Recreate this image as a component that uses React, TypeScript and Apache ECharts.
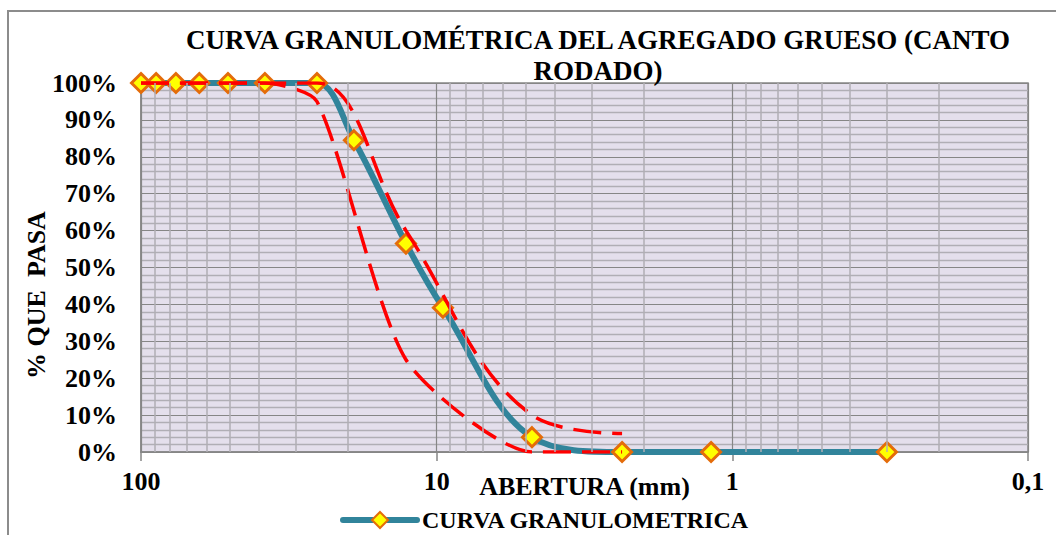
import React, { useEffect, useRef } from "react";
import * as echarts from "echarts";

// Sieve openings (mm) and % passing of the sample
const sieveOpenings = [100, 88.9, 76.2, 63.5, 50.8, 38.1, 25.4, 19.05, 12.7, 9.525, 4.76, 2.36, 1.18, 0.3];
const percentPassing = [100, 100, 100, 100, 100, 100, 100, 84.5, 56.5, 39.1, 4, 0, 0, 0];

// Gradation band limits
const upperOpenings = [100, 88.9, 76.2, 63.5, 50.8, 38.1, 25.4, 12.7, 4.76, 2.36];
const upperLimit = [100, 100, 100, 100, 100, 100, 100, 60, 10, 5];
const lowerOpenings = [100, 88.9, 76.2, 63.5, 50.8, 38.1, 25.4, 12.7, 4.76, 2.36];
const lowerLimit = [100, 100, 100, 100, 100, 100, 95, 25, 0, 0];

// Axis
const xMin = 0.1;
const xMax = 100;
const xTickLabels: Record<string, string> = { "100": "100", "10": "10", "1": "1", "0.1": "0,1" };
const minorGridX = [
  90, 80, 70, 60, 50, 40, 30, 20,
  9, 8, 7, 6, 5, 4, 3, 2,
  0.9, 0.8, 0.7, 0.6, 0.5, 0.4, 0.3, 0.2,
];

const TITLE = "CURVA GRANULOMÉTRICA DEL AGREGADO GRUESO (CANTO\nRODADO)";
const SERIES_NAME = "CURVA GRANULOMETRICA";
const FONT = "'Liberation Serif', 'Times New Roman', serif";

export default function App() {
  const ref = useRef<HTMLDivElement>(null);

  useEffect(() => {
    if (!ref.current) return;
    const chart = echarts.init(ref.current, null, { renderer: "svg" });
    const zip = (xs: number[], ys: number[]) => xs.map((x, i) => [x, ys[i]]);
    const redDash = {
      color: "#ff0000",
      width: 3.5,
      type: [28, 11] as number[],
    };
    chart.setOption({
      animation: false,
      backgroundColor: "#ffffff",
      textStyle: { fontFamily: FONT },
      title: {
        text: TITLE,
        left: 593,
        top: 19,
        textAlign: "center",
        textStyle: {
          fontFamily: FONT,
          fontSize: 27,
          fontWeight: "bold",
          color: "#000",
          lineHeight: 31,
        },
      },
      legend: {
        data: [SERIES_NAME],
        left: 335,
        top: 503,
        itemWidth: 74,
        itemHeight: 20,
        itemGap: 5,
        lineStyle: { width: 6, cap: "round" },
        textStyle: { fontFamily: FONT, fontSize: 24, fontWeight: "bold", color: "#000" },
      },
      graphic: [
        {
          type: "rect",
          shape: { x: 8, y: 11, width: 1200, height: 700 },
          style: { fill: "none", stroke: "#8c8c8c", lineWidth: 2 },
          silent: true,
          z: -10,
        },
        {
          type: "text",
          x: 36,
          y: 295,
          rotation: Math.PI / 2,
          style: {
            text: "% QUE  PASA",
            fontFamily: FONT,
            fontSize: 26,
            fontWeight: "bold",
            fill: "#000",
            textAlign: "center",
            textVerticalAlign: "middle",
          },
        },
      ],
      grid: {
        left: 141,
        right: 28,
        top: 83,
        bottom: 83,
        show: true,
        backgroundColor: "#e4dfec",
        borderColor: "#868686",
        borderWidth: 1.5,
      },
      xAxis: {
        type: "log",
        logBase: 10,
        min: xMin,
        max: xMax,
        inverse: true,
        name: "ABERTURA (mm)",
        nameLocation: "middle",
        nameGap: 21,
        nameMoveOverlap: false,
        nameTextStyle: { fontFamily: FONT, fontSize: 26, fontWeight: "bold", color: "#000" },
        axisLine: { show: true, lineStyle: { color: "#868686", width: 1.5 } },
        axisTick: { show: true, length: 9, lineStyle: { color: "#868686", width: 1.5 } },
        splitLine: { show: true, lineStyle: { color: "#868686", width: 1.2 } },
        axisLabel: {
          margin: 16,
          fontFamily: FONT,
          fontSize: 26,
          fontWeight: "bold",
          color: "#000",
          formatter: (v: number) => {
            const k = String(Number(v.toPrecision(3)));
            return xTickLabels[k] ?? k;
          },
        },
      },
      yAxis: {
        type: "value",
        min: 0,
        max: 100,
        interval: 10,
        axisLine: { show: true, lineStyle: { color: "#868686", width: 1.5 } },
        axisTick: { show: false },
        splitLine: { show: true, lineStyle: { color: "#868686", width: 1.2 } },
        minorTick: { show: false, splitNumber: 5 },
        minorSplitLine: { show: true, lineStyle: { color: "#b0aeb5", width: 1.4 } },
        axisLabel: {
          margin: 24,
          fontFamily: FONT,
          fontSize: 26,
          fontWeight: "bold",
          color: "#000",
          formatter: "{value}%",
        },
      },
      series: [
        {
          name: "minor-grid",
          type: "line",
          data: [],
          z: 1,
          silent: true,
          markLine: {
            silent: true,
            symbol: ["none", "none"],
            label: { show: false },
            animation: false,
            lineStyle: { color: "#b0aeb5", width: 1.5, type: "solid" },
            data: minorGridX.map((v) => ({ xAxis: v })),
          },
        },
        {
          name: SERIES_NAME,
          type: "line",
          data: zip(sieveOpenings, percentPassing),
          smooth: 0.35,
          symbol: "diamond",
          symbolSize: 19,
          z: 3,
          lineStyle: { color: "#31849b", width: 6 },
          itemStyle: { color: "#ffff00", borderColor: "#e46c0a", borderWidth: 3 },
        },
        {
          name: "LIMITE SUPERIOR",
          type: "line",
          data: zip(upperOpenings, upperLimit),
          smooth: 0.4,
          showSymbol: false,
          symbol: "none",
          z: 4,
          lineStyle: redDash,
        },
        {
          name: "LIMITE INFERIOR",
          type: "line",
          data: zip(lowerOpenings, lowerLimit),
          smooth: 0.22,
          showSymbol: false,
          symbol: "none",
          z: 4,
          lineStyle: redDash,
        },
      ],
    });
    return () => chart.dispose();
  }, []);

  return (
    <div
      ref={ref}
      style={{ position: "fixed", left: 0, top: 0, width: 1056, height: 535 }}
    />
  );
}
